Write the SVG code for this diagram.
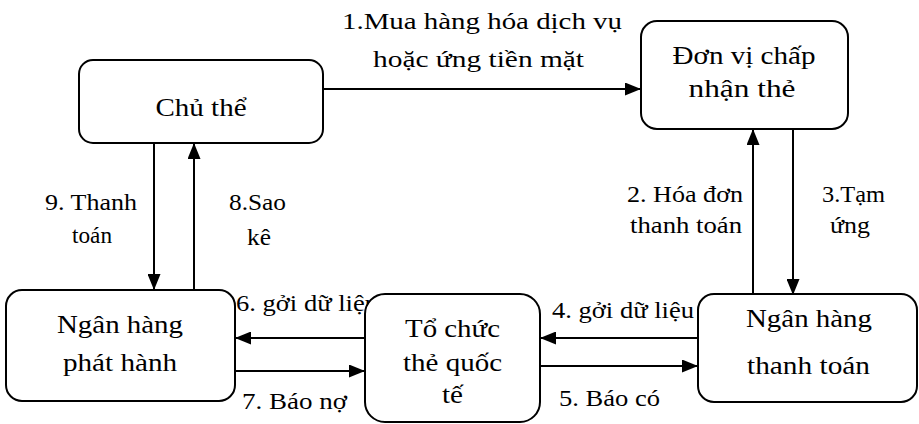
<svg xmlns="http://www.w3.org/2000/svg" width="919" height="424" viewBox="0 0 919 424">
  <style>
    text { font-family: "Liberation Serif", "Times New Roman", serif; fill: #000; }
    .node rect { fill: #fff; stroke: #000; stroke-width: 2; }
    .node text { font-size: 25px; text-anchor: middle; }
    .lbl { font-size: 23.5px; }
    .mid { text-anchor: middle; }
    .edge { stroke: #000; stroke-width: 2; fill: none; }
  </style>
  <defs>
    <marker id="arrow" viewBox="0 0 16 13" markerUnits="userSpaceOnUse" markerWidth="16" markerHeight="13" refX="16" refY="6.5" orient="auto">
      <path d="M0,0 L16,6.5 L0,13 Z" fill="#000"/>
    </marker>
  </defs>

  <!-- connectors and their labels -->
  <g id="connectors">
    <!-- 1: card holder -> merchant -->
    <line class="edge" x1="323" y1="89" x2="641" y2="89" marker-end="url(#arrow)"/>
    <text class="lbl mid" x="482" y="29" font-size="26" textLength="280" lengthAdjust="spacingAndGlyphs">1.Mua hàng hóa dịch vụ</text>
    <text class="lbl mid" x="478.5" y="67" font-size="26" textLength="211" lengthAdjust="spacingAndGlyphs">hoặc ứng tiền mặt</text>

    <!-- 2: acquiring bank -> merchant -->
    <line class="edge" x1="753" y1="294" x2="753" y2="129" marker-end="url(#arrow)"/>
    <text class="lbl mid" x="685" y="202" textLength="116" lengthAdjust="spacingAndGlyphs">2. Hóa đơn</text>
    <text class="lbl mid" x="686" y="233" textLength="112" lengthAdjust="spacingAndGlyphs">thanh toán</text>

    <!-- 3: merchant -> acquiring bank -->
    <line class="edge" x1="793" y1="129" x2="793" y2="295" marker-end="url(#arrow)"/>
    <text class="lbl mid" x="853.5" y="202" textLength="63" lengthAdjust="spacingAndGlyphs">3.Tạm</text>
    <text class="lbl mid" x="850" y="233" textLength="40" lengthAdjust="spacingAndGlyphs">ứng</text>

    <!-- 4: acquiring bank -> card organisation -->
    <line class="edge" x1="698" y1="338" x2="540" y2="338" marker-end="url(#arrow)"/>
    <text class="lbl" x="552" y="318" textLength="142" lengthAdjust="spacingAndGlyphs">4. gởi dữ liệu</text>

    <!-- 5: card organisation -> acquiring bank -->
    <line class="edge" x1="540" y1="366" x2="698" y2="366" marker-end="url(#arrow)"/>
    <text class="lbl" x="559" y="406" textLength="101" lengthAdjust="spacingAndGlyphs">5. Báo có</text>

    <!-- 6: card organisation -> issuing bank (label tail runs under the node) -->
    <line class="edge" x1="365" y1="338" x2="235" y2="338" marker-end="url(#arrow)"/>
    <text class="lbl" x="236" y="311" textLength="142" lengthAdjust="spacingAndGlyphs">6. gởi dữ liệu</text>

    <!-- 7: issuing bank -> card organisation -->
    <line class="edge" x1="235" y1="371" x2="365" y2="371" marker-end="url(#arrow)"/>
    <text class="lbl" x="242" y="409" textLength="105" lengthAdjust="spacingAndGlyphs">7. Báo nợ</text>

    <!-- 8: issuing bank -> card holder -->
    <line class="edge" x1="194" y1="290" x2="194" y2="143" marker-end="url(#arrow)"/>
    <text class="lbl" x="229" y="210" textLength="57" lengthAdjust="spacingAndGlyphs">8.Sao</text>
    <text class="lbl" x="247" y="245" textLength="24" lengthAdjust="spacingAndGlyphs">kê</text>

    <!-- 9: card holder -> issuing bank -->
    <line class="edge" x1="154" y1="143" x2="154" y2="290" stroke-width="1.6" marker-end="url(#arrow)"/>
    <text class="lbl mid" x="91" y="210" textLength="92" lengthAdjust="spacingAndGlyphs">9. Thanh</text>
    <text class="lbl mid" x="92" y="243" textLength="40" lengthAdjust="spacingAndGlyphs">toán</text>
  </g>

  <!-- nodes -->
  <g id="chu-the" class="node">
    <rect x="79" y="60" width="244" height="83" rx="14"/>
    <text x="201" y="116" font-size="27" textLength="91" lengthAdjust="spacingAndGlyphs">Chủ thể</text>
  </g>

  <g id="don-vi-chap-nhan-the" class="node">
    <rect x="641" y="21" width="207" height="108" rx="16"/>
    <text x="744" y="64" textLength="143" lengthAdjust="spacingAndGlyphs">Đơn vị chấp</text>
    <text x="742" y="97" textLength="107" lengthAdjust="spacingAndGlyphs">nhận thẻ</text>
  </g>

  <g id="ngan-hang-phat-hanh" class="node">
    <rect x="6" y="290" width="229" height="111" rx="16"/>
    <text x="120" y="333" textLength="126" lengthAdjust="spacingAndGlyphs">Ngân hàng</text>
    <text x="120" y="371" textLength="114" lengthAdjust="spacingAndGlyphs">phát hành</text>
  </g>

  <g id="to-chuc-the-quoc-te" class="node">
    <rect x="365" y="294" width="175" height="128" rx="20"/>
    <text x="452.5" y="337" textLength="95" lengthAdjust="spacingAndGlyphs">Tổ chức</text>
    <text x="452.5" y="371" textLength="99" lengthAdjust="spacingAndGlyphs">thẻ quốc</text>
    <text x="452.5" y="403" textLength="21" lengthAdjust="spacingAndGlyphs">tế</text>
  </g>

  <g id="ngan-hang-thanh-toan" class="node">
    <rect x="698" y="294" width="219" height="108" rx="16"/>
    <text x="809" y="327" textLength="126" lengthAdjust="spacingAndGlyphs">Ngân hàng</text>
    <text x="808.5" y="374" textLength="123" lengthAdjust="spacingAndGlyphs">thanh toán</text>
  </g>
</svg>
